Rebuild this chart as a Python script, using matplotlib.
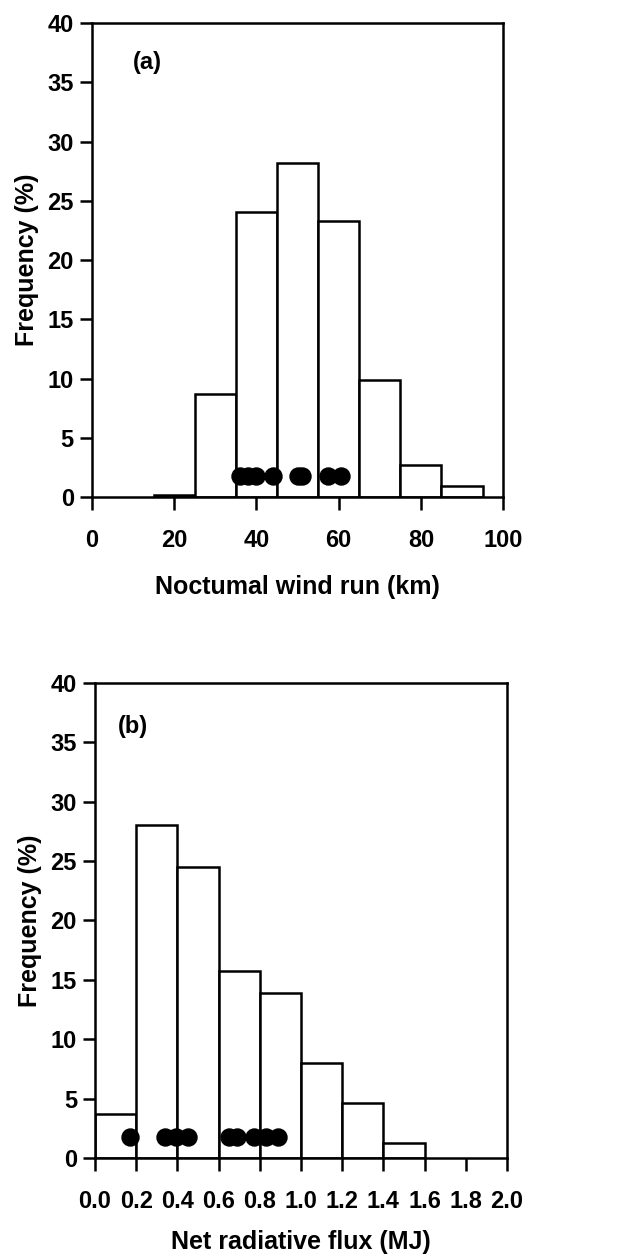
import matplotlib
matplotlib.use("Agg")
import matplotlib.pyplot as plt
import numpy as np

plt.rcParams['font.family'] = ['Liberation Sans', 'DejaVu Sans']
plt.rcParams['font.weight'] = 'bold'
plt.rcParams['axes.labelweight'] = 'bold'

# (a) nocturnal wind run histogram
wind_edges = [15, 25, 35, 45, 55, 65, 75, 85]
wind_freq = [0.2, 8.7, 24.1, 28.2, 23.3, 9.9, 2.7, 0.9]
wind_dots = [36, 38, 40, 44, 50, 51, 57.5, 60.5]

# (b) net radiative flux histogram
flux_edges = [0.0, 0.2, 0.4, 0.6, 0.8, 1.0, 1.2, 1.4]
flux_freq = [3.7, 28.0, 24.5, 15.7, 13.9, 8.0, 4.6, 1.3]
flux_dots = [0.17, 0.34, 0.395, 0.45, 0.65, 0.69, 0.77, 0.83, 0.89]

dot_level = 1.8

fig = plt.figure(figsize=(6.25, 12.6), dpi=100)
ax1 = fig.add_axes([0.147, 0.6056, 0.658, 0.376])
ax2 = fig.add_axes([0.152, 0.081, 0.659, 0.377])


def style(ax):
    for s in ax.spines.values():
        s.set_linewidth(1.8)
    ax.tick_params(direction='out', length=9, width=1.8, labelsize=17)
    ax.tick_params(axis='x', pad=14)
    ax.tick_params(axis='y', pad=4)
    ax.set_ylim(0, 40)
    ax.set_yticks(np.arange(0, 41, 5))
    ax.set_ylabel('Frequency (%)', fontsize=18, labelpad=6)


ax1.bar(wind_edges, wind_freq, width=10, align='edge', facecolor='white',
        edgecolor='black', linewidth=1.8, zorder=2)
ax1.scatter(wind_dots, [dot_level] * len(wind_dots), s=150, color='black', zorder=3)
ax1.set_xlim(0, 100)
ax1.set_xticks([0, 20, 40, 60, 80, 100])
style(ax1)
ax1.set_xlabel('Noctumal wind run (km)', fontsize=18, labelpad=17)
ax1.text(13.4, 36.7, '(a)', fontsize=17, ha='center', va='center')

ax2.bar(flux_edges, flux_freq, width=0.2, align='edge', facecolor='white',
        edgecolor='black', linewidth=1.8, zorder=2)
ax2.scatter(flux_dots, [dot_level] * len(flux_dots), s=150, color='black', zorder=3)
ax2.set_xlim(0, 2.0)
ax2.set_xticks(np.arange(0, 2.01, 0.2))
ax2.set_xticklabels([f'{v:.1f}' for v in np.arange(0, 2.01, 0.2)])
style(ax2)
ax2.set_xlabel('Net radiative flux (MJ)', fontsize=18, labelpad=12)
ax2.text(0.185, 36.3, '(b)', fontsize=17, ha='center', va='center')

plt.savefig('out.png', dpi=100)
plt.close()
